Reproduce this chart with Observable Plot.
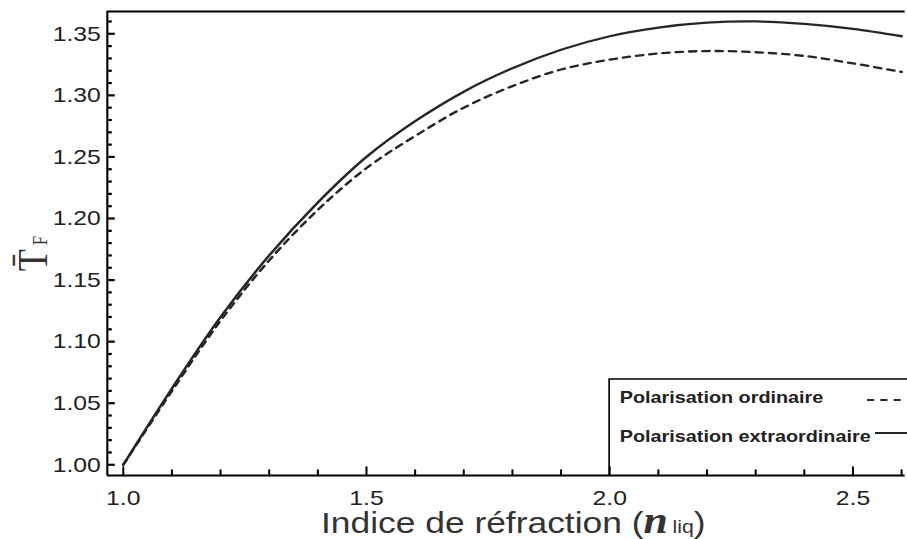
<!DOCTYPE html>
<html>
<head>
<meta charset="utf-8">
<script src="https://cdn.jsdelivr.net/npm/d3@7"></script>
<script src="https://cdn.jsdelivr.net/npm/@observablehq/plot@0.6"></script>
<style>
  html, body { margin: 0; padding: 0; background: #fff; }
  #chart svg { display: block; }
</style>
</head>
<body>
<div id="chart"></div>
<script>
// ---- Data ----
const nValues = [1.0, 1.1, 1.2, 1.3, 1.4, 1.5, 1.6, 1.7, 1.8, 1.9, 2.0, 2.1, 2.2, 2.3, 2.4, 2.5, 2.6];
const ordinaire = [1.000, 1.060, 1.117, 1.166, 1.207, 1.241, 1.267, 1.290, 1.3075, 1.321, 1.329, 1.334, 1.336, 1.335, 1.332, 1.326, 1.319];
const extraordinaire = [1.000, 1.062, 1.120, 1.170, 1.213, 1.250, 1.279, 1.303, 1.322, 1.337, 1.348, 1.355, 1.359, 1.360, 1.358, 1.354, 1.348];
const seriesNames = ["Polarisation ordinaire", "Polarisation extraordinaire"];
const xMajorTicks = [1.0, 1.5, 2.0, 2.5];
const xMinorTicks = [1.1, 1.2, 1.3, 1.4, 1.6, 1.7, 1.8, 1.9, 2.1, 2.2, 2.3, 2.4, 2.6];
const yMajorTicks = [1.00, 1.05, 1.10, 1.15, 1.20, 1.25, 1.30, 1.35];
const yMinorTicks = [1.01, 1.02, 1.03, 1.04, 1.06, 1.07, 1.08, 1.09, 1.11, 1.12, 1.13, 1.14,
                     1.16, 1.17, 1.18, 1.19, 1.21, 1.22, 1.23, 1.24, 1.26, 1.27, 1.28, 1.29,
                     1.31, 1.32, 1.33, 1.34, 1.36];
const xLabelText = "Indice de réfraction (";
const legendX = 2.0;

// ---- Build tables ----
const ordRows = nValues.map((n, i) => ({n, v: ordinaire[i], s: seriesNames[0]}));
const extRows = nValues.map((n, i) => ({n, v: extraordinaire[i], s: seriesNames[1]}));

// The reference is horizontally stretched; draw at a narrower width then stretch.
const OUT_W = 907, OUT_H = 539;
const W = 769;
const S = OUT_W / W;
const marginLeft = 90.5, marginRight = 2;
const xDomain = [0.9672, 2.6075];
const yDomain = [0.9913, 1.3681];
const ink = "#262626";
const dash = "6,5.3";
const pxPerX = (W - marginLeft - marginRight) / (xDomain[1] - xDomain[0]);
const majorLenX = 6.8 / pxPerX, minorLenX = 4.3 / pxPerX; // y-tick lengths in x units

// inward tick shape for vectors: a straight stroke from the anchor
const tickShape = {draw(context, l) { context.moveTo(0, 0); context.lineTo(0, -l); }};

const chart = Plot.plot({
  width: W,
  height: OUT_H,
  marginLeft,
  marginRight,
  marginTop: 11,
  marginBottom: 64,
  x: {domain: xDomain},
  y: {domain: yDomain},
  style: {fontFamily: "'Liberation Sans', Arial, sans-serif", fontSize: "21px", color: "#222", background: "#fff"},
  marks: [
    Plot.line(ordRows, {x: "n", y: "v", stroke: ink, strokeWidth: 2.3, strokeDasharray: dash, curve: "catmull-rom"}),
    Plot.line(extRows, {x: "n", y: "v", stroke: ink, strokeWidth: 2.3, curve: "catmull-rom"}),
    // frame lines
    Plot.ruleX([xDomain[0]], {stroke: "#000", strokeWidth: 1.8}),
    Plot.ruleY([yDomain[0]], {stroke: "#000", strokeWidth: 2}),
    Plot.ruleY([yDomain[1]], {stroke: "#000", strokeWidth: 2}),
    // x ticks (inward, pointing up)
    Plot.vector(xMajorTicks, {x: d => d, y: yDomain[0], length: 8.5, rotate: 0, anchor: "start", shape: tickShape, stroke: "#000", strokeWidth: 1.7}),
    Plot.vector(xMinorTicks, {x: d => d, y: yDomain[0], length: 5.5, rotate: 0, anchor: "start", shape: tickShape, stroke: "#000", strokeWidth: 1.7}),
    Plot.axisX({ticks: xMajorTicks, tickSize: 0, tickPadding: 15, tickFormat: ".1f", label: null, fill: "#222"}),
    // y ticks (inward, pointing right)
    Plot.ruleY(yMajorTicks, {y: d => d, x1: xDomain[0], x2: xDomain[0] + majorLenX, stroke: "#000", strokeWidth: 2.2}),
    Plot.ruleY(yMinorTicks, {y: d => d, x1: xDomain[0], x2: xDomain[0] + minorLenX, stroke: "#000", strokeWidth: 2.2}),
    Plot.axisY({ticks: yMajorTicks, tickSize: 0, tickPadding: 5.5, tickFormat: ".2f", label: null, fill: "#222"})
  ]
});

const svg = d3.select(chart);
const xs = chart.scale("x");

// ---- Legend box ----
const lx = xs.apply(legendX);
const ly = 379;
const bottomY = OUT_H - 64;
svg.append("path")
  .attr("d", `M${lx},${bottomY}V${ly}H${W}`)
  .attr("fill", "none").attr("stroke", "#000").attr("stroke-width", 1.4);
const legFont = "'Liberation Sans', Arial, sans-serif";
svg.append("text").attr("x", lx + 9).attr("y", 403).attr("text-anchor", "start")
  .attr("font-family", legFont).attr("font-weight", "bold").attr("font-size", 16.8).attr("fill", "#222")
  .text(seriesNames[0]);
svg.append("text").attr("x", lx + 9).attr("y", 442).attr("text-anchor", "start")
  .attr("font-family", legFont).attr("font-weight", "bold").attr("font-size", 16.8).attr("fill", "#222")
  .text(seriesNames[1]);
svg.append("line").attr("x1", 867 / S).attr("x2", W).attr("y1", 400).attr("y2", 400)
  .attr("stroke", ink).attr("stroke-width", 2).attr("stroke-dasharray", dash);
svg.append("line").attr("x1", 875 / S).attr("x2", W).attr("y1", 433).attr("y2", 433)
  .attr("stroke", ink).attr("stroke-width", 2);

// ---- X axis label ----
const xl = svg.append("text").attr("x", 321 / S).attr("y", 533).attr("text-anchor", "start")
  .attr("font-family", legFont).attr("font-size", 30).attr("fill", "#333");
xl.append("tspan").text(xLabelText);
xl.append("tspan").attr("font-family", "'Liberation Serif', 'Times New Roman', serif")
  .attr("font-style", "italic").attr("font-weight", "bold").attr("font-size", 37).text("n");
xl.append("tspan").attr("font-size", 18).attr("dx", 4).text("liq");
xl.append("tspan").attr("font-size", 30).text(")");

// ---- Y axis label ----
const yl = svg.append("text")
  .attr("transform", `translate(${47 / S},253.5) rotate(-90)`)
  .attr("text-anchor", "middle")
  .attr("font-family", "'Liberation Serif', 'Times New Roman', serif")
  .attr("font-size", 36).attr("fill", "#333");
yl.append("tspan").text("T\u0304");
yl.append("tspan").attr("font-size", 17).attr("dx", 4).text("F");

// ---- Stretch horizontally to output size ----
chart.setAttribute("width", OUT_W);
chart.setAttribute("height", OUT_H);
chart.setAttribute("preserveAspectRatio", "none");
chart.style.maxWidth = "none";
chart.style.width = OUT_W + "px";
chart.style.height = OUT_H + "px";

document.getElementById("chart").appendChild(chart);
</script>
</body>
</html>
